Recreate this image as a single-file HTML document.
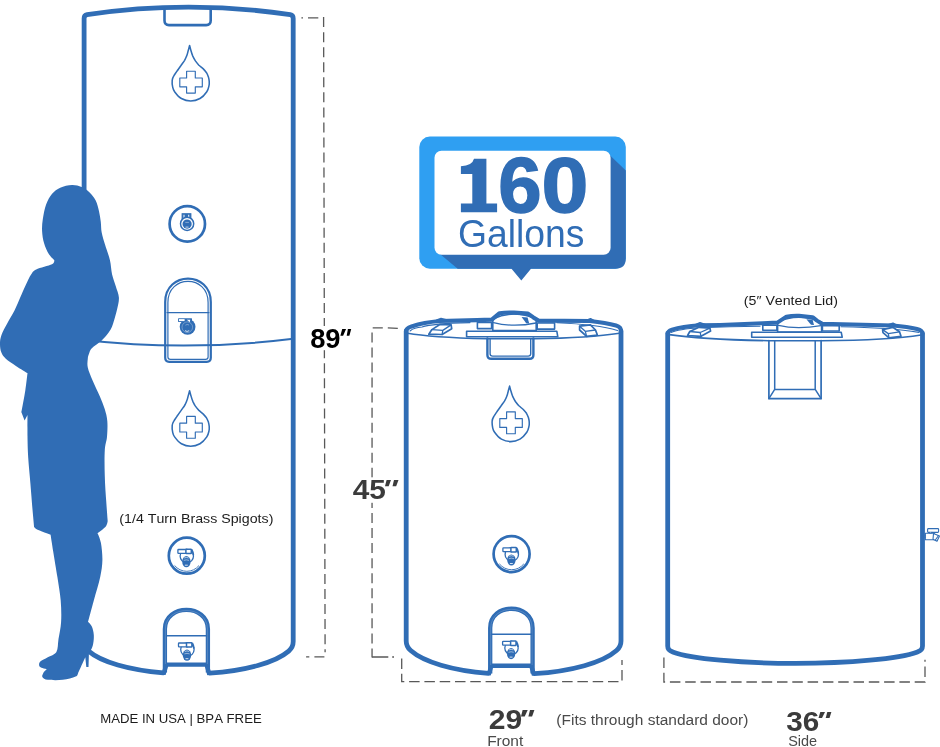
<!DOCTYPE html>
<html><head><meta charset="utf-8"><title>160 Gallon Water Tank Dimensions</title>
<style>
html,body{margin:0;padding:0;background:#fff;}
body{width:940px;height:747px;overflow:hidden;font-family:"Liberation Sans",sans-serif;}
svg{display:block;will-change:transform;}
text{font-family:"Liberation Sans",sans-serif;font-kerning:none;}
</style></head><body>
<svg width="940" height="747" viewBox="0 0 940 747">
<rect width="940" height="747" fill="#ffffff"/>
<g fill="none" stroke="#585858" stroke-width="1.3" stroke-dasharray="10 5.05">
<path d="M323.6,17.1 L325.1,652.2"/>
<path d="M372.05,332.4 V657.4"/>
<path d="M401.7,657 V681.7 H622 V660" stroke-dasharray="10.5 4.8" stroke-dashoffset="-1.5"/>
<path d="M663.9,657.4 V682 H925 V659.8" stroke-dasharray="10.5 4.8"/>
</g>
<g fill="none" stroke="#585858" stroke-width="1.3">
<path d="M301.4,17.8 H303 M308,17.8 H318.3"/>
<path d="M324.4,656.9 H314.4 M309.3,656.9 H306.1"/>
<path d="M372.7,327.9 H382.8 M387.8,327.9 L397.8,328.3"/>
<path d="M372.05,657 H388.3 M392.2,657 H394"/>
</g>
<rect x="318" y="326" width="14" height="24.2" fill="#fff"/>
<rect x="366" y="477.4" width="14" height="25.4" fill="#fff"/>
<g fill="none" stroke="#306db5" stroke-linecap="round" stroke-linejoin="round">
<path stroke-width="4.8" d="M163.3,672.8 A107,35.2 0 0 1 88.6,651.1 Q84.1,647.3 84.1,641.6 V18.4 Q84.1,15.2 87.1,14.6 Q188.6,-0.3 290.2,14.6 Q293.2,15.2 293.2,18.4 V641.6 Q293.2,647.3 288.7,651.1 A107,35.2 0 0 1 209.6,673.1"/>
<path stroke-width="4.4" stroke-linejoin="miter" stroke-linecap="butt" d="M209.4,674.6 L206.6,664.6 H166.4 L163.5,674.3"/>
<path stroke-width="2.6" d="M164.5,10 V20.6 Q164.5,25.1 169,25.1 H206.2 Q210.7,25.1 210.7,20.6 V10"/>
<path stroke-width="2" d="M84.1,340 Q188.6,351.8 293.2,338.8"/>
<path stroke-width="2.2" d="M165.2,357.8 V302 C165.2,270.8 210.8,270.8 210.8,302 V357.8 Q210.8,361.8 206.8,361.8 H169.2 Q165.2,361.8 165.2,357.8Z"/>
<path stroke-width="1.2" d="M167.9,357 V302.5 C167.9,274.3 208.1,274.3 208.1,302.5 V357 Q208.1,359.4 205.6,359.4 H170.4 Q167.9,359.4 167.9,357Z"/>
<path stroke-width="1.2" d="M167,312.6 H209"/>
<path stroke-width="4.3" stroke-linecap="butt" d="M164.9,672.5 V629 C164.9,603.6 207.9,603.6 207.9,629 V672.5"/>
<path stroke-width="0.5" stroke="#fff" opacity="0.35" stroke-linecap="butt" d="M165.4,664 V629 C165.4,604.4 207.4,604.4 207.4,629 V664"/>
<path stroke-width="1.5" d="M166.5,635.8 H206.5"/>
</g>
<g transform="translate(189.6,45.1) scale(1.000)" fill="none" stroke="#306db5" stroke-linejoin="round"><path d="M0.0,0.4C0.0,0.4 -0.9,3.8 -1.4,5.6C-1.8,7.4 -2.3,9.4 -3.0,11.0C-3.6,12.6 -4.1,13.6 -5.0,15.2C-6.0,16.8 -7.6,18.8 -8.8,20.6C-10.1,22.4 -11.4,24.3 -12.6,26.0C-13.7,27.7 -15.0,29.3 -15.8,30.8C-16.7,32.3 -17.3,33.3 -17.4,35.2C-17.6,37.1 -17.3,40.2 -16.9,42.1C-16.5,44.0 -16.4,44.7 -15.0,46.6C-13.6,48.5 -10.9,51.9 -8.2,53.4C-5.5,54.9 -2.0,55.9 1.1,55.9C4.2,55.9 7.7,54.9 10.4,53.4C13.1,51.9 15.7,48.8 17.2,46.6C18.7,44.5 19.0,42.3 19.4,40.5C19.8,38.7 19.7,37.5 19.6,36.0C19.5,34.5 19.2,33.2 18.8,31.8C18.3,30.4 17.7,28.9 16.9,27.6C16.0,26.3 14.9,25.1 13.7,23.8C12.4,22.6 10.7,21.4 9.3,20.1C8.0,18.8 6.9,17.3 5.8,15.8C4.8,14.3 4.0,12.7 3.2,11.0C2.5,9.3 1.9,7.4 1.4,5.6C0.8,3.8 0.0,0.4 0.0,0.4Z" stroke-width="1.55"/><path d="M-3,26.1 H5.7 V32.9 H12.7 V41.7 H5.7 V48 H-3 V41.7 H-9.8 V32.9 H-3Z" stroke-width="1.15"/></g>
<g transform="translate(189.6,390.3) scale(1.000)" fill="none" stroke="#306db5" stroke-linejoin="round"><path d="M0.0,0.4C0.0,0.4 -0.9,3.8 -1.4,5.6C-1.8,7.4 -2.3,9.4 -3.0,11.0C-3.6,12.6 -4.1,13.6 -5.0,15.2C-6.0,16.8 -7.6,18.8 -8.8,20.6C-10.1,22.4 -11.4,24.3 -12.6,26.0C-13.7,27.7 -15.0,29.3 -15.8,30.8C-16.7,32.3 -17.3,33.3 -17.4,35.2C-17.6,37.1 -17.3,40.2 -16.9,42.1C-16.5,44.0 -16.4,44.7 -15.0,46.6C-13.6,48.5 -10.9,51.9 -8.2,53.4C-5.5,54.9 -2.0,55.9 1.1,55.9C4.2,55.9 7.7,54.9 10.4,53.4C13.1,51.9 15.7,48.8 17.2,46.6C18.7,44.5 19.0,42.3 19.4,40.5C19.8,38.7 19.7,37.5 19.6,36.0C19.5,34.5 19.2,33.2 18.8,31.8C18.3,30.4 17.7,28.9 16.9,27.6C16.0,26.3 14.9,25.1 13.7,23.8C12.4,22.6 10.7,21.4 9.3,20.1C8.0,18.8 6.9,17.3 5.8,15.8C4.8,14.3 4.0,12.7 3.2,11.0C2.5,9.3 1.9,7.4 1.4,5.6C0.8,3.8 0.0,0.4 0.0,0.4Z" stroke-width="1.55"/><path d="M-3,26.1 H5.7 V32.9 H12.7 V41.7 H5.7 V48 H-3 V41.7 H-9.8 V32.9 H-3Z" stroke-width="1.15"/></g>
<circle cx="187.3" cy="223.9" r="17.7" fill="none" stroke="#306db5" stroke-width="2.7"/>
<g transform="translate(187.1,223.8) scale(1.000)" stroke="#306db5" fill="none"><rect x="-5" y="-10.1" width="8.8" height="5.5" fill="#306db5" stroke-width="1"/><path d="M-3.1,-9 V-5.4 M1.6,-9 V-5.8" stroke="#fff" stroke-width="1.1" opacity="0.9"/><circle cx="0" cy="0" r="6.6" stroke-width="1.5" fill="#fff"/><circle cx="0" cy="0.3" r="4.6" fill="#306db5" stroke="none"/><path d="M-1.8,-1.4 H1.8" stroke="#fff" stroke-width="0.6" opacity="0.7"/><path d="M-1.6,3.3 H1.4" stroke="#fff" stroke-width="0.8" opacity="0.9"/></g>
<circle cx="186.8" cy="555.7" r="18.0" fill="none" stroke="#306db5" stroke-width="2.7"/><path d="M174.6,565.5 A15.7,15.7 0 0 0 199.0,565.5" fill="none" stroke="#306db5" stroke-width="0.9"/>
<g transform="translate(186.8,556.1) scale(1.000)" stroke="#306db5" fill="none"><circle cx="0" cy="0" r="6.7" stroke-width="1.3" fill="#fff"/><ellipse cx="-0.4" cy="5.6" rx="4.2" ry="5.6" fill="#306db5" stroke="none"/><rect x="-8.9" y="-6.6" width="9.2" height="3.8" rx="0.6" fill="#fff" stroke-width="1.3"/><rect x="-0.9" y="-6.9" width="5.4" height="4.4" rx="0.5" fill="#fff" stroke-width="1.5"/><path d="M4.9,-6.6 Q6.4,-4 6.6,-1" stroke-width="1.6"/><path d="M-2.6,1.9 Q-0.4,0.7 1.8,1.9" stroke="#fff" stroke-width="0.7" opacity="0.85"/><path d="M-3,4.3 Q-0.4,3.2 2.2,4.3" stroke="#fff" stroke-width="0.7" opacity="0.7"/><path d="M-1.9,9.1 H1" stroke="#fff" stroke-width="0.9" opacity="0.9"/></g>
<g transform="translate(187.6,326.8) scale(1.000)" stroke="#306db5" fill="none"><circle cx="0" cy="0" r="7.9" fill="#306db5" stroke="none"/><rect x="-9.5" y="-8.6" width="13.9" height="3.9" rx="0.5" fill="#306db5" stroke="none"/><rect x="-8.6" y="-7.7" width="5.6" height="2" fill="#fff" stroke="none"/><path d="M-0.8,-7 H2.6 L2.2,-4.6Z" fill="#fff" stroke="none"/><circle cx="-0.3" cy="0.4" r="5.3" stroke="#fff" stroke-width="0.55" opacity="0.55"/><path d="M-2.6,3.8 Q-0.5,5.6 1.6,3.8" stroke="#fff" stroke-width="0.9" opacity="0.85"/><path d="M-2.2,-1.6 Q-0.5,-3 1.4,-1.8" stroke="#fff" stroke-width="0.6" opacity="0.6"/></g>
<g transform="translate(187.4,649.6) scale(1.000)" stroke="#306db5" fill="none"><circle cx="0" cy="0" r="6.7" stroke-width="1.3" fill="#fff"/><ellipse cx="-0.4" cy="5.6" rx="4.2" ry="5.6" fill="#306db5" stroke="none"/><rect x="-8.9" y="-6.6" width="9.2" height="3.8" rx="0.6" fill="#fff" stroke-width="1.3"/><rect x="-0.9" y="-6.9" width="5.4" height="4.4" rx="0.5" fill="#fff" stroke-width="1.5"/><path d="M4.9,-6.6 Q6.4,-4 6.6,-1" stroke-width="1.6"/><path d="M-2.6,1.9 Q-0.4,0.7 1.8,1.9" stroke="#fff" stroke-width="0.7" opacity="0.85"/><path d="M-3,4.3 Q-0.4,3.2 2.2,4.3" stroke="#fff" stroke-width="0.7" opacity="0.7"/><path d="M-1.9,9.1 H1" stroke="#fff" stroke-width="0.9" opacity="0.9"/></g>
<g fill="none" stroke="#306db5" stroke-linecap="round" stroke-linejoin="round">
<path stroke-width="4.8" d="M621.0,331 V640.9 Q621.0,646.6 616.5,650.5 A110,37 0 0 1 534.2,673.7"/>
<path stroke-width="4.8" d="M488.4,673.4 A110,37 0 0 1 410.7,650.5 Q406.2,646.6 406.2,640.9 V331"/>
<path stroke-width="4.4" stroke-linejoin="miter" stroke-linecap="butt" d="M534,675.2 L531.2,665.7 H491.4 L488.6,674.9"/>
<path stroke-width="1.1" d="M410,331 Q414,327.5 422,327 Q432,323.5 470,322.6 M557,322.8 Q598,324.5 617.5,330.6"/>
<path stroke-width="1.6" d="M407.7,333.2 Q430,337.2 486.6,338.8 H534.4 Q590,337.8 619.5,333.2"/>
<path stroke-width="1.6" d="M492.8,330.6 V319 Q514,309 536.2,319 V330.6Z" fill="#fff"/>
<path stroke-width="1.3" d="M493.5,322.6 Q513,327.6 536,323"/>
<path stroke="none" fill="#306db5" d="M521.6,317 L527.6,317.6 L529.2,323.4 L526.2,323.2Z"/>
<path stroke-width="1.6" d="M477.4,322.5 H491.6 V328.6 H477.4Z M537.2,323 H554.6 V329.1 H537.2Z" fill="#fff"/>
<path stroke-width="1.6" d="M466.6,331.2 H556.8 L557.8,336.8 H466.6Z" fill="#fff"/>
<path stroke-width="1.7" d="M428.8,334.2 L431.9,329.6 L440.2,324.3 L451.1,324.9 L451.7,328.7 L442.1,334.5Z" fill="#fff"/>
<path stroke-width="1.3" d="M431.9,329.6 L442.8,330.4 L451.1,324.9 M442.8,330.4 L442.1,334.5"/>
<path stroke-width="1.7" d="M579.6,326.2 L590.4,324.9 L595.5,330 L597.4,335.1 L586.6,336.4 L579.6,330Z" fill="#fff"/>
<path stroke-width="1.3" d="M579.6,326.2 L585.3,331.3 L595.5,330 M585.3,331.3 L586.6,336.4"/>
<path stroke-width="4.2" d="M406.2,331 Q406.2,328 411.5,326.4 Q424,322.4 439.6,321 L477,320.2 L491.8,319.6 L499.6,313.2 Q506,312.2 514,312.6 L528,313.6 L533.4,317.4 L538.4,320.6 L590,321 Q606,322.6 616,325.6 Q621.0,327 621.0,331"/>
<path stroke-width="1.6" d="M437,320 L441,318.6 L447,320 M586,320.4 L590.5,318.8 L594,320.8"/>
<path stroke-width="2.4" d="M487.4,338.5 V355 Q487.4,358.8 491.3,358.8 H529.5 Q533.4,358.8 533.4,355 V338.5"/>
<path stroke-width="1.4" d="M490.1,338.8 V353.8 Q490.1,356.1 492.6,356.1 H528.2 Q530.7,356.1 530.7,353.8 V338.8"/>
<path stroke-width="4.3" stroke-linecap="butt" d="M490.2,673.5 V628 C490.2,602.3 532.6,602.3 532.6,628 V673.5"/>
<path stroke-width="0.5" stroke="#fff" opacity="0.35" stroke-linecap="butt" d="M490.7,665 V628 C490.7,603.1 532.1,603.1 532.1,628 V665"/>
<path stroke-width="1.5" d="M491.5,634.2 H531.5"/>
</g>
<g transform="translate(509.6,385.7) scale(1.000)" fill="none" stroke="#306db5" stroke-linejoin="round"><path d="M0.0,0.4C0.0,0.4 -0.9,3.8 -1.4,5.6C-1.8,7.4 -2.3,9.4 -3.0,11.0C-3.6,12.6 -4.1,13.6 -5.0,15.2C-6.0,16.8 -7.6,18.8 -8.8,20.6C-10.1,22.4 -11.4,24.3 -12.6,26.0C-13.7,27.7 -15.0,29.3 -15.8,30.8C-16.7,32.3 -17.3,33.3 -17.4,35.2C-17.6,37.1 -17.3,40.2 -16.9,42.1C-16.5,44.0 -16.4,44.7 -15.0,46.6C-13.6,48.5 -10.9,51.9 -8.2,53.4C-5.5,54.9 -2.0,55.9 1.1,55.9C4.2,55.9 7.7,54.9 10.4,53.4C13.1,51.9 15.7,48.8 17.2,46.6C18.7,44.5 19.0,42.3 19.4,40.5C19.8,38.7 19.7,37.5 19.6,36.0C19.5,34.5 19.2,33.2 18.8,31.8C18.3,30.4 17.7,28.9 16.9,27.6C16.0,26.3 14.9,25.1 13.7,23.8C12.4,22.6 10.7,21.4 9.3,20.1C8.0,18.8 6.9,17.3 5.8,15.8C4.8,14.3 4.0,12.7 3.2,11.0C2.5,9.3 1.9,7.4 1.4,5.6C0.8,3.8 0.0,0.4 0.0,0.4Z" stroke-width="1.55"/><path d="M-3,26.1 H5.7 V32.9 H12.7 V41.7 H5.7 V48 H-3 V41.7 H-9.8 V32.9 H-3Z" stroke-width="1.15"/></g>
<circle cx="511.6" cy="554.1" r="18.0" fill="none" stroke="#306db5" stroke-width="2.7"/><path d="M499.4,563.9 A15.7,15.7 0 0 0 523.8,563.9" fill="none" stroke="#306db5" stroke-width="0.9"/>
<g transform="translate(511.8,554.4) scale(1.000)" stroke="#306db5" fill="none"><circle cx="0" cy="0" r="6.7" stroke-width="1.3" fill="#fff"/><ellipse cx="-0.4" cy="5.6" rx="4.2" ry="5.6" fill="#306db5" stroke="none"/><rect x="-8.9" y="-6.6" width="9.2" height="3.8" rx="0.6" fill="#fff" stroke-width="1.3"/><rect x="-0.9" y="-6.9" width="5.4" height="4.4" rx="0.5" fill="#fff" stroke-width="1.5"/><path d="M4.9,-6.6 Q6.4,-4 6.6,-1" stroke-width="1.6"/><path d="M-2.6,1.9 Q-0.4,0.7 1.8,1.9" stroke="#fff" stroke-width="0.7" opacity="0.85"/><path d="M-3,4.3 Q-0.4,3.2 2.2,4.3" stroke="#fff" stroke-width="0.7" opacity="0.7"/><path d="M-1.9,9.1 H1" stroke="#fff" stroke-width="0.9" opacity="0.9"/></g>
<g transform="translate(511.5,648.0) scale(1.000)" stroke="#306db5" fill="none"><circle cx="0" cy="0" r="6.7" stroke-width="1.3" fill="#fff"/><ellipse cx="-0.4" cy="5.6" rx="4.2" ry="5.6" fill="#306db5" stroke="none"/><rect x="-8.9" y="-6.6" width="9.2" height="3.8" rx="0.6" fill="#fff" stroke-width="1.3"/><rect x="-0.9" y="-6.9" width="5.4" height="4.4" rx="0.5" fill="#fff" stroke-width="1.5"/><path d="M4.9,-6.6 Q6.4,-4 6.6,-1" stroke-width="1.6"/><path d="M-2.6,1.9 Q-0.4,0.7 1.8,1.9" stroke="#fff" stroke-width="0.7" opacity="0.85"/><path d="M-3,4.3 Q-0.4,3.2 2.2,4.3" stroke="#fff" stroke-width="0.7" opacity="0.7"/><path d="M-1.9,9.1 H1" stroke="#fff" stroke-width="0.9" opacity="0.9"/></g>
<g fill="none" stroke="#306db5" stroke-linecap="round" stroke-linejoin="round">
<path stroke-width="4.8" d="M667.7,333.5 V646.0 Q667.7,650.3 672.7,651.9 A130,17.3 0 0 0 917.5,651.9 Q922.5,650.3 922.5,646.0 V333.5"/>
<path stroke-width="1.1" d="M671,332.6 Q678,329.2 700,327.8 Q730,326.4 760,326.2 M841,326.8 Q890,327.6 919,332.4"/>
<path stroke-width="1.6" d="M669.2,334.6 Q700,339.4 768.4,340.7 H821.6 Q890,340.2 921.0,335"/>
<path stroke-width="1.6" d="M777.6,332 V322 Q798,312.6 821.6,322 V332Z" fill="#fff"/>
<path stroke-width="1.3" d="M778.4,325.4 Q797,329.8 821,325.6"/>
<path stroke="none" fill="#306db5" d="M806.4,319.2 L812.6,319.8 L814,325 L811,324.8Z"/>
<path stroke-width="1.6" d="M762.8,325.2 H776.9 V330.3 H762.8Z M822.4,325.6 H839.2 V331 H822.4Z" fill="#fff"/>
<path stroke-width="1.6" d="M751.7,332.2 H841.2 L842.2,337.2 H751.7Z" fill="#fff"/>
<path stroke-width="1.7" d="M687.6,335.5 L689.8,331.5 L699,327.3 L709.9,328.1 L710.6,331.1 L701,336.3Z" fill="#fff"/>
<path stroke-width="1.3" d="M689.8,331.5 L700.2,332.5 L709.9,328.1 M700.2,332.5 L701,336.3"/>
<path stroke-width="1.7" d="M882.6,329.6 L892.8,327.3 L899.5,331.8 L901,336.3 L889,337.8 L883,332.6Z" fill="#fff"/>
<path stroke-width="1.3" d="M882.6,329.6 L888.3,333.6 L899.5,331.8 M888.3,333.6 L889,337.8"/>
<path stroke-width="4.0" d="M667.7,333.5 Q667.7,331 672,329.6 Q682,326.6 700,325.3 L720,324.9 L762.8,323.2 L777.7,322.4 L786.4,316.6 Q792,315.6 799,315.8 L812.6,317.2 L817,320.6 L822,323.8 L893,325.4 Q908,326.6 917,329 Q922.5,330.4 922.5,333.5"/>
<path stroke-width="1.6" d="M696,324.4 L700,322.8 L705,324.4 M889,324.6 L893,323.2 L896.5,325.2"/>
<path stroke-width="1.7" d="M768.9,340.5 V398.6 H821.1 V340.5"/>
<path stroke-width="1.5" d="M774.7,340.8 V389.4 H815.2 V340.8 M774.7,389.4 L768.9,398.6 M815.2,389.4 L821.1,398.6"/>
<g stroke-width="1.1" fill="#fff"><rect x="925.3" y="533.3" width="9" height="6.4"/><path d="M925,534.8 V538.4" stroke-dasharray="1 1"/><rect x="927.6" y="528.6" width="11" height="3.8" rx="0.8"/><path d="M929,532.4 Q930.5,534 932,532.4"/><path d="M933.5,533.5 L939.5,536 L937,541.3 L933,539.2Z"/><path d="M935.5,539.8 L938.2,536"/></g>
</g>
<path fill="#306db5" d="M72.0,185.0C68.4,185.1 63.5,186.2 60.2,187.7C56.9,189.2 54.5,191.0 52.1,193.8C49.8,196.6 47.7,200.3 46.1,204.5C44.5,208.7 43.5,214.8 42.8,219.2C42.1,223.6 41.9,227.2 42.1,231.2C42.3,235.2 43.0,239.5 44.1,243.3C45.2,247.1 47.1,251.2 48.8,254.0C50.5,256.8 54.2,260.0 54.2,260.0C54.2,260.0 55.0,262.7 52.0,264.3C49.0,265.9 39.7,267.7 36.2,269.4C32.7,271.1 32.8,272.0 31.1,274.5C29.4,277.0 27.8,280.8 26.0,284.6C24.2,288.5 22.1,293.3 20.2,297.6C18.3,301.9 16.7,306.3 14.5,310.6C12.3,314.9 9.4,319.5 7.2,323.6C5.0,327.7 2.6,331.8 1.4,335.2C0.2,338.6 0.0,341.0 0.0,343.9C0.0,346.8 0.4,350.1 1.4,352.6C2.4,355.1 3.4,356.5 5.8,358.7C8.2,360.9 12.3,363.5 15.9,365.9C19.5,368.3 27.5,373.1 27.5,373.1C27.5,373.1 26.3,384.0 25.3,390.5C24.3,397.0 21.4,412.2 21.4,412.2L24.6,420.4L27.5,415.1C27.5,415.1 27.4,429.8 27.5,436.8C27.6,443.9 27.7,449.6 28.2,457.4C28.7,465.2 29.7,474.7 30.4,483.4C31.1,492.1 31.9,502.3 32.5,509.4C33.1,516.5 34.0,526.0 34.0,526.0C34.0,526.0 33.4,527.4 36.2,528.9C39.0,530.4 50.6,534.7 50.6,534.7C50.6,534.7 52.1,544.3 53.2,551.4C54.3,558.5 56.1,568.9 57.4,577.1C58.6,585.3 60.1,593.1 60.7,600.6C61.3,608.1 61.5,615.6 61.1,622.0C60.7,628.4 59.3,634.1 58.5,639.1C57.7,644.1 58.2,649.0 56.4,652.0C54.6,655.0 50.5,655.7 47.8,657.3C45.1,658.9 41.7,660.2 40.3,661.6C38.9,663.0 38.9,664.8 39.3,665.9C39.7,667.0 41.2,667.5 42.5,668.0C43.8,668.5 46.8,669.1 46.8,669.1C46.8,669.1 43.8,672.0 43.1,673.4C42.4,674.8 41.7,676.1 42.5,677.2C43.3,678.3 44.4,679.4 47.8,679.8C51.2,680.2 58.2,680.3 62.8,679.8C67.4,679.3 72.9,678.0 75.6,676.6C78.3,675.2 77.3,674.4 78.9,671.2C80.5,668.0 85.3,657.3 85.3,657.3L86.3,667.0L88.5,667.0L88.9,654.1C88.9,654.1 92.0,648.8 92.8,645.6C93.6,642.4 94.0,638.1 93.8,634.9C93.6,631.7 92.7,628.4 91.7,626.3C90.8,624.1 88.1,622.0 88.1,622.0C88.1,622.0 91.8,608.1 93.8,600.6C95.8,593.1 98.8,583.9 100.2,577.1C101.6,570.3 102.3,565.7 102.4,560.0C102.5,554.3 101.7,547.3 100.9,542.8C100.1,538.3 97.5,533.2 97.5,533.2C97.5,533.2 103.9,528.8 105.6,526.8C107.3,524.8 107.7,521.0 107.7,521.0C107.7,521.0 106.8,509.7 106.3,502.2C105.8,494.7 105.0,484.9 104.8,476.2C104.5,467.5 104.4,456.7 104.8,450.1C105.2,443.5 106.6,441.7 107.0,436.8C107.4,431.9 107.7,425.5 107.3,420.9C106.9,416.3 106.0,413.4 104.8,409.3C103.5,405.2 101.8,401.1 99.8,396.3C97.8,391.5 94.6,385.2 92.6,380.4C90.6,375.6 88.6,371.0 87.8,367.4C87.0,363.8 87.6,360.9 87.8,358.7C88.0,356.5 88.2,355.8 88.9,354.0C89.6,352.2 89.8,350.4 91.8,348.2C93.8,346.0 98.5,343.4 101.2,341.0C103.9,338.6 106.0,336.0 107.7,333.8C109.4,331.6 110.4,329.9 111.4,328.0C112.4,326.1 112.5,325.3 113.5,322.2C114.5,319.1 116.2,313.3 117.1,309.2C118.0,305.1 119.1,301.5 118.9,297.6C118.7,293.7 116.8,289.9 115.7,286.0C114.6,282.1 113.1,278.8 112.1,274.5C111.1,270.2 111.1,265.0 109.9,260.0C108.7,255.0 106.4,249.2 105.0,244.6C103.6,240.0 102.4,236.4 101.7,232.6C101.0,228.8 101.2,225.5 100.8,221.9C100.3,218.3 99.8,214.8 99.0,211.2C98.2,207.6 97.3,203.5 95.7,200.4C94.1,197.3 91.9,194.6 89.6,192.4C87.2,190.2 84.5,188.2 81.6,187.0C78.7,185.8 75.6,184.9 72.0,185.0Z"/>
<rect x="419.3" y="136.6" width="206.5" height="132.1" rx="10.5" fill="#2f9ff2"/>
<path fill="#306db5" d="M607,152.6 L625.8,170.4 V258.2 Q625.8,268.7 615.3,268.7 H531 L521.3,280.6 L511.5,268.7 H457.7 L439.5,253.6Z"/>
<rect x="434.5" y="150.8" width="176.1" height="104" rx="7" fill="#fff"/>
<path fill="#306db5" d="M486.4,158.8 V203.5 H497.1 V212.2 H460.9 V203.5 H472.3 V173.9 H460.9 V166.2 Q472.3,165.8 474,158.8Z"/>
<text stroke="#306db5" stroke-width="1.4" transform="translate(498.14,212.30) scale(1.0076,1)" font-size="77.40" font-weight="bold" fill="#306db5">6</text>
<text stroke="#306db5" stroke-width="1.4" transform="translate(541.47,212.30) scale(1.0894,1)" font-size="77.40" font-weight="bold" fill="#306db5">0</text>
<text transform="translate(458.02,247.00) scale(0.9820,1)" font-size="38.00" font-weight="normal" fill="#306db5">Gallons</text>
<text transform="translate(310.13,347.90) scale(0.9986,1)" font-size="27.40" font-weight="bold" fill="#000">89</text>
<polygon fill="#000" points="342.2,329.1 346.1,329.1 343.1,335.7 340.4,335.7"/><polygon fill="#000" points="347.9,329.1 351.2,329.1 349.4,335.7 346.7,335.7"/>
<text transform="translate(352.65,499.40) scale(1.0809,1)" font-size="27.60" font-weight="bold" fill="#3b3b3b">45</text>
<polygon fill="#3b3b3b" points="386.6,480.0 391.0,480.0 388.7,486.2 385.0,486.2"/><polygon fill="#3b3b3b" points="394.0,480.0 398.5,480.0 396.2,486.2 392.5,486.2"/>
<text transform="translate(488.66,729.40) scale(1.1059,1)" font-size="27.20" font-weight="bold" fill="#3b3b3b">29</text>
<polygon fill="#3b3b3b" points="522.6,710.1 527.7,710.1 524.7,716.4 521.0,716.4"/><polygon fill="#3b3b3b" points="530.0,710.1 534.4,710.1 532.1,716.4 528.4,716.4"/>
<text transform="translate(786.32,731.40) scale(1.0768,1)" font-size="27.60" font-weight="bold" fill="#3b3b3b">36</text>
<polygon fill="#3b3b3b" points="820.3,711.9 825.0,711.9 822.0,718.1 818.5,718.1"/><polygon fill="#3b3b3b" points="827.3,711.9 831.4,711.9 829.5,718.1 825.7,718.1"/>
<text transform="translate(487.13,746.20) scale(1.0918,1)" font-size="14.20" font-weight="normal" fill="#4a4a4a">Front</text>
<text transform="translate(788.14,746.20) scale(1.0204,1)" font-size="14.20" font-weight="normal" fill="#4a4a4a">Side</text>
<text transform="translate(556.34,725.30) scale(1.0770,1)" font-size="14.40" font-weight="normal" fill="#4a4a4a">(Fits through standard door)</text>
<text transform="translate(119.32,523.00) scale(1.0460,1)" font-size="13.60" font-weight="normal" fill="#1c1c1c">(1/4 Turn Brass Spigots)</text>
<text transform="translate(100.22,723.40) scale(1.0140,1)" font-size="13.00" font-weight="normal" fill="#1c1c1c">MADE IN USA | BPA FREE</text>
<text transform="translate(743.82,304.60) scale(1.0750,1)" font-size="13.20" font-weight="normal" fill="#1c1c1c">(5″ Vented Lid)</text>
</svg>
</body></html>
